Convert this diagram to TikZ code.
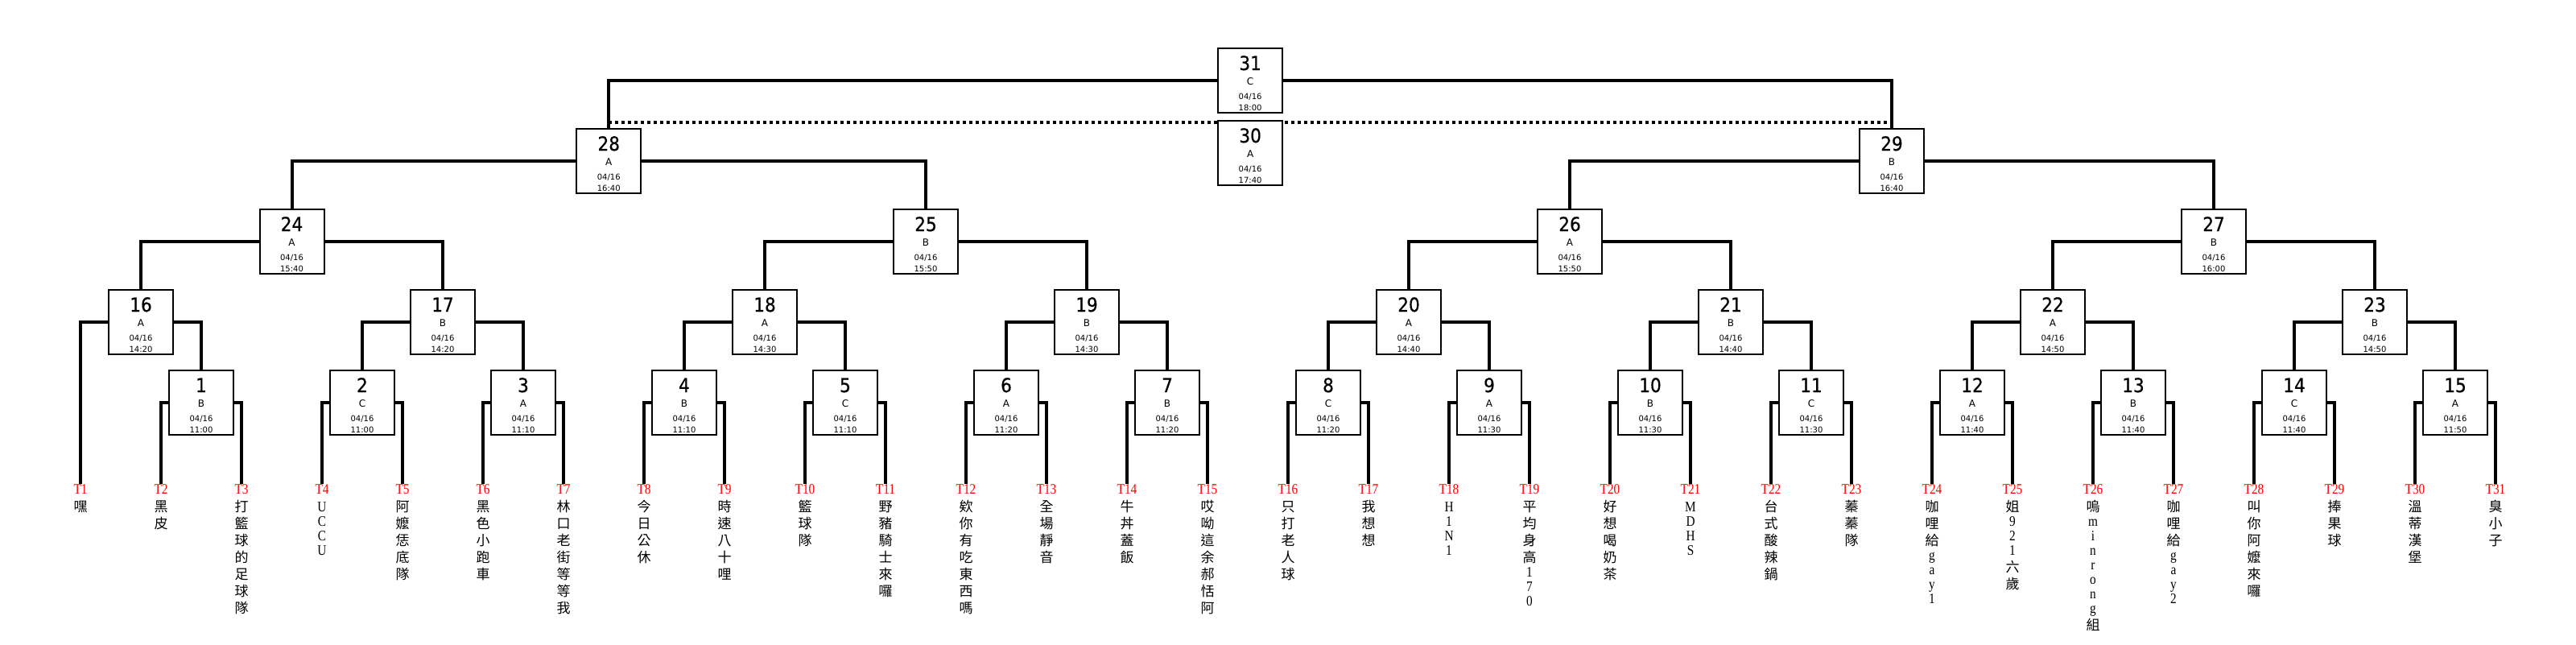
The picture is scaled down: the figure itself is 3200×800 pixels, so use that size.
\documentclass[tikz,border=0pt]{standalone}
\usepackage{fontspec}
\setmainfont{DejaVu Sans}
\newfontfamily\boxfont{DejaVu Sans}
\newfontfamily\numfont[FakeStretch=0.9,FakeBold=0.6]{DejaVu Sans}
\newfontfamily\cjkfont{Noto Sans CJK TC}
\newfontfamily\serfont[FakeStretch=0.85]{Liberation Serif}
\newfontfamily\latnfont[FakeStretch=0.85]{Liberation Serif}
\makeatletter
\newcommand\zline[1]{\setbox0=\hbox to 40pt{\hss#1\hss}\ht0=0pt \dp0=0pt \box0}
\newcommand\mt[4]{\vbox to 40pt{\offinterlineskip\kern13.5pt
  \zline{\fontsize{12pt}{12pt}\numfont #1}\kern9pt
  \zline{\fontsize{6pt}{6pt}\boxfont #2}\kern9pt
  \zline{\fontsize{5pt}{5pt}\boxfont #3}\kern7pt
  \zline{\fontsize{5pt}{5pt}\boxfont #4}\vss}}
\newcommand\vn[1]{\vtop{\lineskiplimit=-1000pt\lineskip=0pt\vn@loop#1\relax}}
\def\vn@loop#1{\ifx\relax#1\else\vn@ch{#1}\expandafter\vn@loop\fi}
\def\vn@ch#1{\ifnum`#1<256 \baselineskip=9pt\relax\hbox to 0pt{\hss\fontsize{9pt}{9pt}\latnfont#1\hss}\else\baselineskip=10.5pt\relax\hbox to 0pt{\hss\fontsize{8.5pt}{8.5pt}\cjkfont#1\hss}\fi}
\makeatother
\tikzset{
  mb/.style={draw, line width=1pt, fill=white, inner sep=0pt, minimum width=40pt, minimum height=40pt},
  conn/.style={line width=2pt},
  loser/.style={line width=2pt, dash pattern=on 2pt off 2pt},
  tl/.style={anchor=north, inner sep=0pt, text height=6pt, text depth=0pt, text=red, font=\fontsize{9pt}{9pt}\serfont},
  nm/.style={anchor=base, inner sep=0pt}
}
\begin{document}
\begin{tikzpicture}[x=0.5pt, y=-0.5pt]
\useasboundingbox (0,0) rectangle (3200,800);
% teams
\node[tl] (t1) at (100,601) {T1};   \node[nm] (n1) at (100,635) {\vn{嘿}};
\node[tl] (t2) at (200,601) {T2};   \node[nm] (n2) at (200,635) {\vn{黑皮}};
\node[tl] (t3) at (300,601) {T3};   \node[nm] (n3) at (300,635) {\vn{打籃球的足球隊}};
\node[tl] (t4) at (400,601) {T4};   \node[nm] (n4) at (400,635) {\vn{UCCU}};
\node[tl] (t5) at (500,601) {T5};   \node[nm] (n5) at (500,635) {\vn{阿嬤恁底隊}};
\node[tl] (t6) at (600,601) {T6};   \node[nm] (n6) at (600,635) {\vn{黑色小跑車}};
\node[tl] (t7) at (700,601) {T7};   \node[nm] (n7) at (700,635) {\vn{林口老街等等我}};
\node[tl] (t8) at (800,601) {T8};   \node[nm] (n8) at (800,635) {\vn{今日公休}};
\node[tl] (t9) at (900,601) {T9};   \node[nm] (n9) at (900,635) {\vn{時速八十哩}};
\node[tl] (t10) at (1000,601) {T10}; \node[nm] (n10) at (1000,635) {\vn{籃球隊}};
\node[tl] (t11) at (1100,601) {T11}; \node[nm] (n11) at (1100,635) {\vn{野豬騎士來囉}};
\node[tl] (t12) at (1200,601) {T12}; \node[nm] (n12) at (1200,635) {\vn{欸你有吃東西嗎}};
\node[tl] (t13) at (1300,601) {T13}; \node[nm] (n13) at (1300,635) {\vn{全場靜音}};
\node[tl] (t14) at (1400,601) {T14}; \node[nm] (n14) at (1400,635) {\vn{牛丼蓋飯}};
\node[tl] (t15) at (1500,601) {T15}; \node[nm] (n15) at (1500,635) {\vn{哎呦這余郝恬阿}};
\node[tl] (t16) at (1600,601) {T16}; \node[nm] (n16) at (1600,635) {\vn{只打老人球}};
\node[tl] (t17) at (1700,601) {T17}; \node[nm] (n17) at (1700,635) {\vn{我想想}};
\node[tl] (t18) at (1800,601) {T18}; \node[nm] (n18) at (1800,635) {\vn{H1N1}};
\node[tl] (t19) at (1900,601) {T19}; \node[nm] (n19) at (1900,635) {\vn{平均身高170}};
\node[tl] (t20) at (2000,601) {T20}; \node[nm] (n20) at (2000,635) {\vn{好想喝奶茶}};
\node[tl] (t21) at (2100,601) {T21}; \node[nm] (n21) at (2100,635) {\vn{MDHS}};
\node[tl] (t22) at (2200,601) {T22}; \node[nm] (n22) at (2200,635) {\vn{台式酸辣鍋}};
\node[tl] (t23) at (2300,601) {T23}; \node[nm] (n23) at (2300,635) {\vn{蓁蓁隊}};
\node[tl] (t24) at (2400,601) {T24}; \node[nm] (n24) at (2400,635) {\vn{咖哩給gay1}};
\node[tl] (t25) at (2500,601) {T25}; \node[nm] (n25) at (2500,635) {\vn{姐921六歲}};
\node[tl] (t26) at (2600,601) {T26}; \node[nm] (n26) at (2600,635) {\vn{嗚minrong組}};
\node[tl] (t27) at (2700,601) {T27}; \node[nm] (n27) at (2700,635) {\vn{咖哩給gay2}};
\node[tl] (t28) at (2800,601) {T28}; \node[nm] (n28) at (2800,635) {\vn{叫你阿嬤來囉}};
\node[tl] (t29) at (2900,601) {T29}; \node[nm] (n29) at (2900,635) {\vn{捧果球}};
\node[tl] (t30) at (3000,601) {T30}; \node[nm] (n30) at (3000,635) {\vn{溫蒂漢堡}};
\node[tl] (t31) at (3100,601) {T31}; \node[nm] (n31) at (3100,635) {\vn{臭小子}};
% first round
\node[mb] (m1) at (250,500) {\mt{1}{B}{04/16}{11:00}};
\node[mb] (m2) at (450,500) {\mt{2}{C}{04/16}{11:00}};
\node[mb] (m3) at (650,500) {\mt{3}{A}{04/16}{11:10}};
\node[mb] (m4) at (850,500) {\mt{4}{B}{04/16}{11:10}};
\node[mb] (m5) at (1050,500) {\mt{5}{C}{04/16}{11:10}};
\node[mb] (m6) at (1250,500) {\mt{6}{A}{04/16}{11:20}};
\node[mb] (m7) at (1450,500) {\mt{7}{B}{04/16}{11:20}};
\node[mb] (m8) at (1650,500) {\mt{8}{C}{04/16}{11:20}};
\node[mb] (m9) at (1850,500) {\mt{9}{A}{04/16}{11:30}};
\node[mb] (m10) at (2050,500) {\mt{10}{B}{04/16}{11:30}};
\node[mb] (m11) at (2250,500) {\mt{11}{C}{04/16}{11:30}};
\node[mb] (m12) at (2450,500) {\mt{12}{A}{04/16}{11:40}};
\node[mb] (m13) at (2650,500) {\mt{13}{B}{04/16}{11:40}};
\node[mb] (m14) at (2850,500) {\mt{14}{C}{04/16}{11:40}};
\node[mb] (m15) at (3050,500) {\mt{15}{A}{04/16}{11:50}};
% second round
\node[mb] (m16) at (175,400) {\mt{16}{A}{04/16}{14:20}};
\node[mb] (m17) at (550,400) {\mt{17}{B}{04/16}{14:20}};
\node[mb] (m18) at (950,400) {\mt{18}{A}{04/16}{14:30}};
\node[mb] (m19) at (1350,400) {\mt{19}{B}{04/16}{14:30}};
\node[mb] (m20) at (1750,400) {\mt{20}{A}{04/16}{14:40}};
\node[mb] (m21) at (2150,400) {\mt{21}{B}{04/16}{14:40}};
\node[mb] (m22) at (2550,400) {\mt{22}{A}{04/16}{14:50}};
\node[mb] (m23) at (2950,400) {\mt{23}{B}{04/16}{14:50}};
% third round
\node[mb] (m24) at (362.5,300) {\mt{24}{A}{04/16}{15:40}};
\node[mb] (m25) at (1150,300) {\mt{25}{B}{04/16}{15:50}};
\node[mb] (m26) at (1950,300) {\mt{26}{A}{04/16}{15:50}};
\node[mb] (m27) at (2750,300) {\mt{27}{B}{04/16}{16:00}};
% semi finals and finals
\node[mb] (m28) at (756.25,200) {\mt{28}{A}{04/16}{16:40}};
\node[mb] (m29) at (2350,200) {\mt{29}{B}{04/16}{16:40}};
\node[mb] (m31) at (1553.125,100) {\mt{31}{C}{04/16}{18:00}};
% connectors
\draw[conn] (m1.west) -| (t2.north);  \draw[conn] (m1.east) -| (t3.north);
\draw[conn] (m2.west) -| (t4.north);  \draw[conn] (m2.east) -| (t5.north);
\draw[conn] (m3.west) -| (t6.north);  \draw[conn] (m3.east) -| (t7.north);
\draw[conn] (m4.west) -| (t8.north);  \draw[conn] (m4.east) -| (t9.north);
\draw[conn] (m5.west) -| (t10.north); \draw[conn] (m5.east) -| (t11.north);
\draw[conn] (m6.west) -| (t12.north); \draw[conn] (m6.east) -| (t13.north);
\draw[conn] (m7.west) -| (t14.north); \draw[conn] (m7.east) -| (t15.north);
\draw[conn] (m8.west) -| (t16.north); \draw[conn] (m8.east) -| (t17.north);
\draw[conn] (m9.west) -| (t18.north); \draw[conn] (m9.east) -| (t19.north);
\draw[conn] (m10.west) -| (t20.north); \draw[conn] (m10.east) -| (t21.north);
\draw[conn] (m11.west) -| (t22.north); \draw[conn] (m11.east) -| (t23.north);
\draw[conn] (m12.west) -| (t24.north); \draw[conn] (m12.east) -| (t25.north);
\draw[conn] (m13.west) -| (t26.north); \draw[conn] (m13.east) -| (t27.north);
\draw[conn] (m14.west) -| (t28.north); \draw[conn] (m14.east) -| (t29.north);
\draw[conn] (m15.west) -| (t30.north); \draw[conn] (m15.east) -| (t31.north);
\draw[conn] (m16.west) -| (t1.north);  \draw[conn] (m16.east) -| (m1.north);
\draw[conn] (m17.west) -| (m2.north);  \draw[conn] (m17.east) -| (m3.north);
\draw[conn] (m18.west) -| (m4.north);  \draw[conn] (m18.east) -| (m5.north);
\draw[conn] (m19.west) -| (m6.north);  \draw[conn] (m19.east) -| (m7.north);
\draw[conn] (m20.west) -| (m8.north);  \draw[conn] (m20.east) -| (m9.north);
\draw[conn] (m21.west) -| (m10.north); \draw[conn] (m21.east) -| (m11.north);
\draw[conn] (m22.west) -| (m12.north); \draw[conn] (m22.east) -| (m13.north);
\draw[conn] (m23.west) -| (m14.north); \draw[conn] (m23.east) -| (m15.north);
\draw[conn] (m24.west) -| (m16.north); \draw[conn] (m24.east) -| (m17.north);
\draw[conn] (m25.west) -| (m18.north); \draw[conn] (m25.east) -| (m19.north);
\draw[conn] (m26.west) -| (m20.north); \draw[conn] (m26.east) -| (m21.north);
\draw[conn] (m27.west) -| (m22.north); \draw[conn] (m27.east) -| (m23.north);
\draw[conn] (m28.west) -| (m24.north); \draw[conn] (m28.east) -| (m25.north);
\draw[conn] (m29.west) -| (m26.north); \draw[conn] (m29.east) -| (m27.north);
\draw[conn] (m31.west) -| (m28.north); \draw[conn] (m31.east) -| (m29.north);
% third place line
\draw[loser] ([yshift=3.5pt]m28.north) -- ([yshift=3.5pt]m29.north);
\node[mb] (m30) at (1553.125,190) {\mt{30}{A}{04/16}{17:40}};
\end{tikzpicture}
\end{document}
